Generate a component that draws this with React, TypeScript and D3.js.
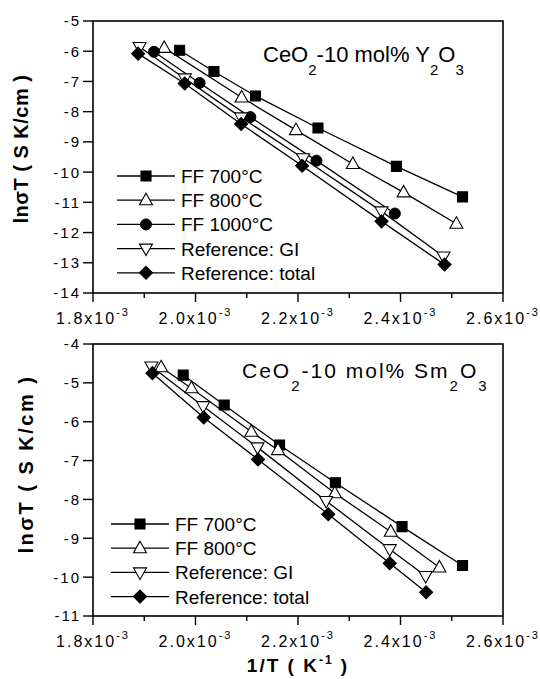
import React from 'react';
import * as d3 from 'd3';

// x values are in units of 1e-3 K^-1
const xTicks = [1.8, 2.0, 2.2, 2.4, 2.6];
const xMinorTicks = [1.9, 2.1, 2.3, 2.5];
const topYTicks = [-14, -13, -12, -11, -10, -9, -8, -7, -6, -5];
const bottomYTicks = [-11, -10, -9, -8, -7, -6, -5, -4];

// CeO2-10 mol% Y2O3
const y2o3Ff700X = [1.969, 2.036, 2.117, 2.239, 2.392, 2.521];
const y2o3Ff700Y = [-5.97, -6.67, -7.48, -8.54, -9.81, -10.82];
const y2o3Ff800X = [1.939, 2.090, 2.196, 2.307, 2.406, 2.509];
const y2o3Ff800Y = [-5.89, -7.53, -8.61, -9.73, -10.67, -11.71];
const y2o3Ff1000X = [1.919, 2.008, 2.107, 2.236, 2.389];
const y2o3Ff1000Y = [-6.02, -7.05, -8.18, -9.62, -11.37];
const y2o3GiX = [1.891, 1.979, 2.089, 2.210, 2.363, 2.484];
const y2o3GiY = [-5.86, -6.90, -8.19, -9.54, -11.30, -12.79];
const y2o3TotalX = [1.888, 1.979, 2.089, 2.208, 2.363, 2.486];
const y2o3TotalY = [-6.08, -7.07, -8.41, -9.79, -11.63, -13.06];

// CeO2-10 mol% Sm2O3
const smFf700X = [1.976, 2.056, 2.164, 2.273, 2.403, 2.521];
const smFf700Y = [-4.80, -5.57, -6.60, -7.57, -8.70, -9.70];
const smFf800X = [1.933, 1.992, 2.109, 2.161, 2.272, 2.381, 2.476];
const smFf800Y = [-4.60, -5.14, -6.26, -6.73, -7.84, -8.83, -9.75];
const smGiX = [1.914, 2.015, 2.121, 2.255, 2.379, 2.449];
const smGiY = [-4.58, -5.60, -6.66, -8.04, -9.28, -9.97];
const smTotalX = [1.916, 2.016, 2.122, 2.259, 2.379, 2.450];
const smTotalY = [-4.75, -5.89, -6.97, -8.38, -9.64, -10.39];

const FONT = "'Liberation Sans', Arial, sans-serif";

const markerPath = (kind) => {
  switch (kind) {
    case 'square': return 'M-5,-5H5V5H-5Z';
    case 'up': return 'M0,-7L6.5,4.5H-6.5Z';
    case 'down': return 'M0,7L6.5,-4.5H-6.5Z';
    case 'diamond': return 'M0,-6.5L6.5,0L0,6.5L-6.5,0Z';
    default: return '';
  }
};

const Marker = ({ kind, x, y }) => {
  const filled = kind === 'square' || kind === 'circle' || kind === 'diamond';
  if (kind === 'circle') {
    return <circle cx={x} cy={y} r={5.5} fill="#000" stroke="#000" strokeWidth={1} />;
  }
  return (
    <path d={markerPath(kind)} transform={`translate(${x},${y})`}
      fill={filled ? '#000' : '#fff'} stroke="#000" strokeWidth={1.1} />
  );
};

const Panel = ({ top, bottom, yDomain, yTicks, series, legend, title, titleLS, yLabel, xLabelBaseline }) => {
  const left = 93, right = 503;
  const x = d3.scaleLinear().domain([1.8, 2.6]).range([left, right]);
  const y = d3.scaleLinear().domain(yDomain).range([bottom, top]);
  const line = d3.line().x(d => x(d[0])).y(d => y(d[1]));

  return (
    <g fontFamily={FONT}>
      {series.map((s, i) => (
        <path key={'l' + i} d={line(d3.zip(s.xs, s.ys))} fill="none" stroke="#000" strokeWidth={1.3} />
      ))}
      {series.map((s, i) => s.xs.map((xv, j) => (
        <Marker key={'m' + i + '-' + j} kind={s.kind} x={x(xv)} y={y(s.ys[j])} />
      )))}
      <rect x={left} y={top} width={right - left} height={bottom - top} fill="none" stroke="#000" strokeWidth={1.6} />
      {yTicks.map(t => (
        <g key={'yt' + t}>
          <line x1={left - 10} x2={left} y1={y(t)} y2={y(t)} stroke="#000" strokeWidth={1.4} />
          <text x={left - 12} y={y(t)} dy="0.36em" textAnchor="end" fontSize={15} letterSpacing={2}>{t}</text>
        </g>
      ))}
      {xTicks.map(t => (
        <g key={'xt' + t}>
          <line x1={x(t)} x2={x(t)} y1={bottom} y2={bottom + 9} stroke="#000" strokeWidth={1.4} />
          <text x={x(t)} y={xLabelBaseline} textAnchor="middle" fontSize={16} letterSpacing={2}>
            {t.toFixed(1)}x10<tspan fontSize={11} dy={-8}>-3</tspan>
          </text>
        </g>
      ))}
      {xMinorTicks.map(t => (
        <line key={'xm' + t} x1={x(t)} x2={x(t)} y1={bottom} y2={bottom + 5} stroke="#000" strokeWidth={1.4} />
      ))}
      <text transform={`translate(${yLabel.x},${yLabel.y}) rotate(-90)`} textAnchor="middle"
        fontSize={yLabel.size} fontWeight="bold" letterSpacing={yLabel.ls}>lnσT ( S K/cm )</text>
      <text x={title.x} y={title.y} fontSize={title.size} letterSpacing={titleLS}>
        CeO<tspan fontSize={15} dy={13}>2</tspan><tspan dy={-13}>-10 mol% {title.dopant}</tspan>
        <tspan fontSize={15} dy={13}>2</tspan><tspan dy={-13}>O</tspan><tspan fontSize={15} dy={13}>3</tspan>
      </text>
      {legend.items.map((s, i) => {
        const ly = legend.y0 + i * 24.2;
        return (
          <g key={'lg' + i}>
            <line x1={legend.x0} x2={legend.x0 + 58} y1={ly} y2={ly} stroke="#000" strokeWidth={1.3} />
            <Marker kind={s.kind} x={legend.x0 + 29} y={ly} />
            <text x={legend.x0 + 64} y={ly} dy="0.37em" fontSize={19}>{s.label}</text>
          </g>
        );
      })}
    </g>
  );
};

export default function App() {
  const topSeries = [
    { xs: y2o3Ff700X, ys: y2o3Ff700Y, kind: 'square', label: 'FF 700°C' },
    { xs: y2o3Ff800X, ys: y2o3Ff800Y, kind: 'up', label: 'FF 800°C' },
    { xs: y2o3Ff1000X, ys: y2o3Ff1000Y, kind: 'circle', label: 'FF 1000°C' },
    { xs: y2o3GiX, ys: y2o3GiY, kind: 'down', label: 'Reference: GI' },
    { xs: y2o3TotalX, ys: y2o3TotalY, kind: 'diamond', label: 'Reference: total' },
  ];
  const bottomSeries = [
    { xs: smFf700X, ys: smFf700Y, kind: 'square', label: 'FF 700°C' },
    { xs: smFf800X, ys: smFf800Y, kind: 'up', label: 'FF 800°C' },
    { xs: smGiX, ys: smGiY, kind: 'down', label: 'Reference: GI' },
    { xs: smTotalX, ys: smTotalY, kind: 'diamond', label: 'Reference: total' },
  ];

  return (
    <svg width={540} height={679} style={{ position: 'absolute', left: 0, top: 0, background: '#fff' }}>
      <rect width={540} height={679} fill="#fff" />
      <Panel top={21} bottom={293} yDomain={[-14, -5]} yTicks={topYTicks} series={topSeries}
        legend={{ x0: 117, y0: 176, items: topSeries }}
        title={{ x: 263, y: 62, size: 22, dopant: 'Y' }} titleLS={0}
        yLabel={{ x: 28, y: 149, size: 20, ls: 0.5 }}
        xLabelBaseline={324} />
      <Panel top={344} bottom={616} yDomain={[-11, -4]} yTicks={bottomYTicks} series={bottomSeries}
        legend={{ x0: 111, y0: 524, items: bottomSeries }}
        title={{ x: 242, y: 378, size: 21, dopant: 'Sm' }} titleLS={2}
        yLabel={{ x: 33, y: 464, size: 20, ls: 2.5 }}
        xLabelBaseline={647} />
      <text x={298} y={672} textAnchor="middle" fontFamily={FONT} fontSize={19} fontWeight="bold" letterSpacing={2}>
        1/T ( K<tspan fontSize={12} dy={-8}>-1</tspan><tspan dy={8}> )</tspan>
      </text>
    </svg>
  );
}
